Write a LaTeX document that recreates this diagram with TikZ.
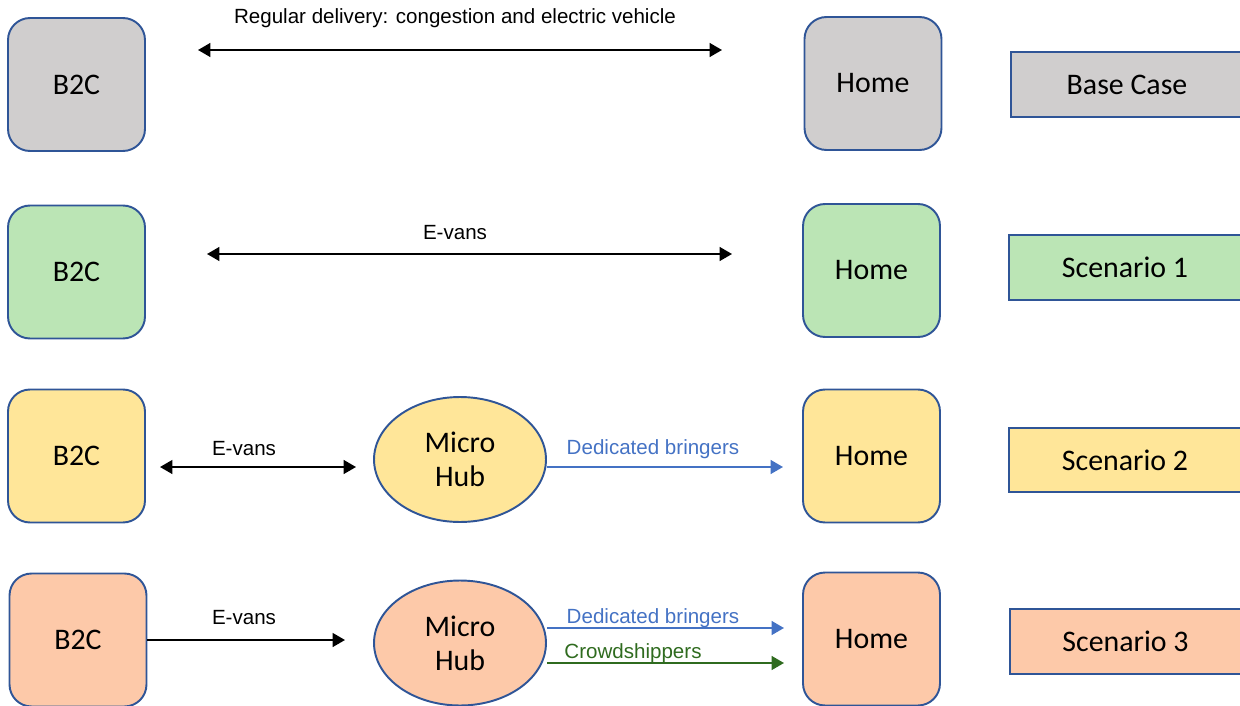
\documentclass[tikz,border=0pt]{standalone}
\usepackage{fontspec}
\setmainfont{Carlito}
\newfontfamily\labfont{Liberation Sans}
\usetikzlibrary{arrows.meta,shapes.geometric,calc}
\definecolor{bordc}{HTML}{2F5597}
\definecolor{grayf}{HTML}{D0CECE}
\definecolor{greenf}{HTML}{BBE5B5}
\definecolor{yellowf}{HTML}{FFE699}
\definecolor{peachf}{HTML}{FDC9A9}
\definecolor{bluearr}{HTML}{4472C4}
\definecolor{greenarr}{HTML}{2F6B1F}
\tikzset{
  rbox/.style={draw=bordc,line width=1.1pt,rounded corners=0.44cm,minimum width=2.74cm,minimum height=2.66cm,font=\fontsize{17}{19}\selectfont,inner sep=0pt},
  sbox/.style={draw=bordc,line width=1.1pt,minimum width=4.7cm,minimum height=1.3cm,font=\fontsize{17}{19}\selectfont,inner sep=0pt},
  hub/.style={draw=bordc,line width=1.1pt,ellipse,minimum width=3.44cm,minimum height=2.5cm,inner sep=0pt,align=center,font=\fontsize{17}{19.5}\selectfont},
  lbl/.style={font=\labfont\fontsize{11.7}{13}\selectfont,inner sep=0pt},
  conn/.style={line width=1.1pt,-{Triangle[length=7pt,width=7.8pt]}},
  dconn/.style={line width=1.1pt,{Triangle[length=7pt,width=7.8pt]}-{Triangle[length=7pt,width=7.8pt]}},
}
\begin{document}
\begin{tikzpicture}[x=0.02cm,y=-0.02cm]
\useasboundingbox (0,0) rectangle (1240,706);
\clip (0,0) rectangle (1240,706);
% Row 1
\node[rbox,fill=grayf] (b2c1) at (76.5,84.5) {\raisebox{-1pt}{B2C}};
\node[rbox,fill=grayf] (home1) at (873,83.5) {\raisebox{-1pt}{Home}};
\node[sbox,fill=grayf,minimum width=4.68cm] (base) at (1128,84.5) {\raisebox{-1pt}{Base Case}\hspace*{0.04cm}};
\coordinate (a1l) at (198,50);
\coordinate (a1r) at (722,50);
\draw[dconn] (a1l) -- (a1r);
\node[lbl] (l1) at (455,18) {Regular delivery: congestion and electric vehicle};
% Row 2
\node[rbox,fill=greenf] (b2c2) at (76.5,272) {\raisebox{-1pt}{B2C}};
\node[rbox,fill=greenf] (home2) at (871.5,270.5) {\raisebox{-1pt}{Home}};
\node[sbox,fill=greenf,minimum width=4.72cm] (s1) at (1127,267.5) {\raisebox{-1pt}{Scenario 1}\hspace*{0.08cm}};
\coordinate (a2l) at (207,254);
\coordinate (a2r) at (732,254);
\draw[dconn] (a2l) -- (a2r);
\node[lbl] (l2) at (455,233) {E-vans};
% Row 3
\node[rbox,fill=yellowf] (b2c3) at (76.5,456) {\raisebox{-1pt}{B2C}};
\node[hub,fill=yellowf] (hub3) at (460,459.5) {Micro\\Hub};
\node[rbox,fill=yellowf] (home3) at (871.5,456) {\raisebox{-1pt}{Home}};
\node[sbox,fill=yellowf,minimum width=4.72cm,minimum height=1.28cm] (s2) at (1127,460) {\raisebox{-1pt}{Scenario 2}\hspace*{0.08cm}};
\coordinate (a3l) at (160,467);
\coordinate (a3r) at (356,467);
\draw[dconn] (a3l) -- (a3r);
\node[lbl] (l3) at (244,449) {E-vans};
\coordinate (b3e) at (783,467);
\draw[conn,bluearr] ($(hub3.east)+(0,7.5)$) -- (b3e);
\node[lbl,text=bluearr] (l3b) at (653,449) {Dedicated bringers};
% Row 4
\node[rbox,fill=peachf] (b2c4) at (78,640) {\raisebox{-1pt}{B2C}};
\node[hub,fill=peachf] (hub4) at (460,643) {Micro\\Hub};
\node[rbox,fill=peachf] (home4) at (871.5,639) {\raisebox{-1pt}{Home}};
\node[sbox,fill=peachf,minimum width=4.72cm] (s3) at (1127.5,641.5) {\raisebox{-1pt}{Scenario 3}\hspace*{0.08cm}};
\coordinate (a4r) at (345,640);
\draw[conn] (b2c4.east) -- (a4r);
\node[lbl] (l4) at (244,618) {E-vans};
\coordinate (b4s) at (547,628);
\coordinate (b4e) at (784,628);
\draw[conn,bluearr] (b4s) -- (b4e);
\node[lbl,text=bluearr] (l4b) at (653,618) {Dedicated bringers};
\coordinate (g4s) at (547,663);
\coordinate (g4e) at (784,663);
\draw[conn,greenarr] (g4s) -- (g4e);
\node[lbl,text=greenarr] (l4g) at (633,653) {Crowdshippers};
\end{tikzpicture}
\end{document}
